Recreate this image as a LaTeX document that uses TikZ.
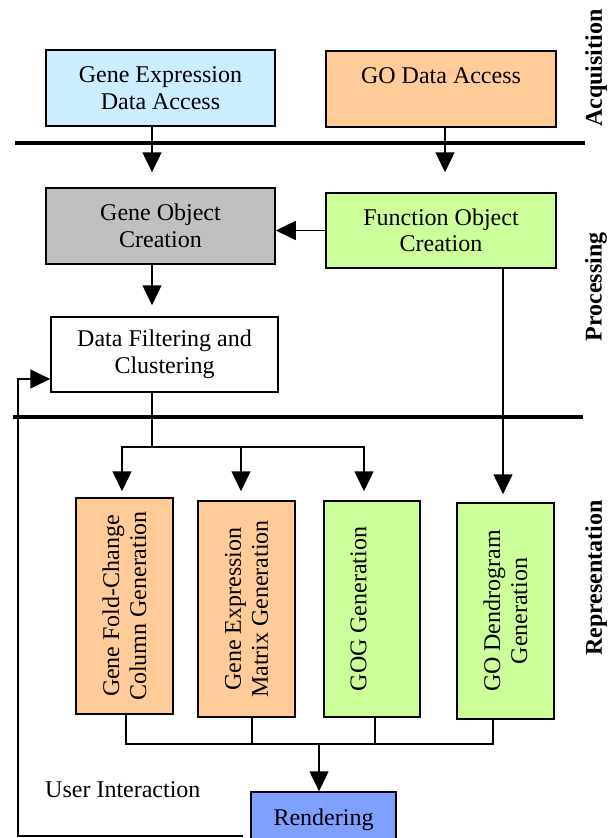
\documentclass[tikz,border=0pt]{standalone}
\usepackage{fontspec}
\setmainfont{Liberation Serif}
\usetikzlibrary{arrows.meta}
\definecolor{exprblue}{RGB}{204,236,255}
\definecolor{goorange}{RGB}{255,204,153}
\definecolor{objgray}{RGB}{192,192,192}
\definecolor{fngreen}{RGB}{204,255,153}
\definecolor{renderblue}{RGB}{128,160,255}
\begin{document}
\begin{tikzpicture}[x=1pt,y=-1pt,
  blk/.style={draw, line width=1.5pt, align=center, inner sep=0pt,
    font=\fontsize{24}{26.5}\selectfont},
  hbox/.style={blk, minimum width=229pt, minimum height=76pt},
  vbox/.style={blk, rotate=90, minimum width=216pt, minimum height=97pt,
    font=\fontsize{24}{27}\selectfont},
  conn/.style={line width=1.5pt},
  arr/.style={conn, -{Triangle[width=19pt,length=20pt]}},
  sepline/.style={line width=4pt},
  phase/.style={rotate=90, inner sep=0pt, font=\fontsize{24}{26}\selectfont\bfseries}]

\clip (0,0) rectangle (614,838);
\fill[white] (0,0) rectangle (614,838);

% phase separators
\draw[sepline] (15,143) -- (585,143);
\draw[sepline] (13,417) -- (583,417);

% phase labels
\node[phase] (acq) at (596,68) {Acquisition};
\node[phase] (proc) at (596,287) {Processing};
\node[phase] (repr) at (596,578) {Representation};

% acquisition
\node[hbox, fill=exprblue] (gea) at (160.5,88) {Gene Expression\\Data Access};
\node[hbox, fill=goorange, minimum width=230pt] (goa) at (441,89) {GO Data Access\\\phantom{D}};

% processing
\node[hbox, fill=objgray] (goc) at (160.5,226) {Gene Object\\Creation};
\node[hbox, fill=fngreen, minimum width=230pt, minimum height=75pt] (foc) at (441,230.5) {Function Object\\Creation};
\node[hbox, fill=white, minimum width=227pt, minimum height=75pt] (dfc) at (164.5,354.5) {Data Filtering and\\Clustering};

% representation
\node[vbox, fill=goorange] (fcg) at (124.5,606) {Gene Fold-Change\\Column Generation};
\node[vbox, fill=goorange] (emg) at (246.5,609) {Gene Expression\\Matrix Generation};
\node[vbox, fill=fngreen, minimum height=96pt] (gog) at (372,609) {GOG Generation\\\phantom{G}};
\node[vbox, fill=fngreen] (gdg) at (505.5,611) {GO Dendrogram\\Generation};

\node[blk, fill=renderblue, minimum width=145pt, minimum height=76pt] (ren) at (323.5,830) {Rendering\\\phantom{R}};
\node[anchor=base west, inner sep=0pt, font=\fontsize{24}{26}\selectfont] (ui) at (45,797) {User Interaction};

% connectors
\draw[arr, shorten >=15pt] ([xshift=-8.5pt]gea.south) -- ([xshift=-8.5pt]goc.north);
\draw[arr, shorten >=20pt] ([xshift=4pt]goa.south) -- ([xshift=4pt]foc.north);
\draw[arr] (foc.west) -- (foc.west -| goc.east);
\draw[arr, shorten >=11pt] ([xshift=-8.5pt]goc.south) -- ([xshift=-12.5pt]dfc.north);

\draw[conn] ([xshift=-12.5pt]dfc.south) -- ++(0,54) coordinate (split);
\draw[arr, shorten >=6pt] (split) -| ([xshift=-2.5pt]fcg.east);
\draw[arr, shorten >=9pt] (split) -| ([xshift=-5.5pt]emg.east);
\draw[arr, shorten >=9pt] (split) -| ([xshift=-8pt]gog.east);
\draw[arr, shorten >=8pt] ([xshift=62pt]foc.south) -- ([xshift=-2.5pt]gdg.east);

\coordinate (join) at (319,744);
\draw[conn] ([xshift=1.5pt]fcg.west) |- (join);
\draw[conn] ([xshift=-12.5pt]gdg.west) |- (join);
\draw[conn] ([xshift=5.5pt]emg.west) -- ([xshift=5.5pt]emg.west |- join);
\draw[conn] ([xshift=3pt]gog.west) -- ([xshift=3pt]gog.west |- join);
\draw[arr] (join) -- (join |- ren.north);

% user interaction feedback loop
\coordinate (fbend) at (243,836);
\coordinate (fbcorner) at (18,836);
\draw[arr] (fbend) -- (fbcorner) |- ([yshift=-24.5pt]dfc.west);
\end{tikzpicture}
\end{document}
